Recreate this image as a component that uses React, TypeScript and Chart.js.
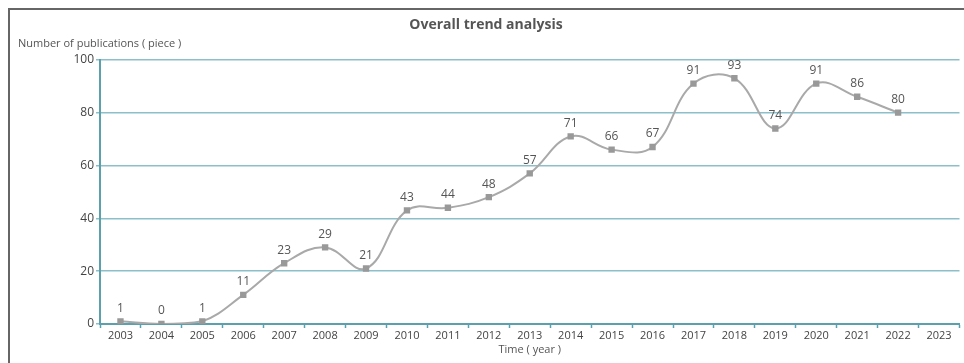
import React, { useEffect, useRef } from "react";
import { Chart, registerables } from "chart.js";

Chart.register(...registerables);

const years = ["2003","2004","2005","2006","2007","2008","2009","2010","2011","2012","2013","2014","2015","2016","2017","2018","2019","2020","2021","2022","2023"];
const publications: (number | null)[] = [1,0,1,11,23,29,21,43,44,48,57,71,66,67,91,93,74,91,86,80,null];
const yTicks = [0, 20, 40, 60, 80, 100];
const chartTitle = "Overall trend analysis";
const yTitle = "Number of publications ( piece )";
const xTitle = "Time ( year )";

const FONT = "'Open Sans', 'Noto Sans', sans-serif";
const GRID = "#8cbfc9";
const AXIS = "#5aa0ad";

const labelPlugin = {
  id: "labels",
  afterDatasetsDraw(chart: any) {
    const ctx = chart.ctx;
    const meta = chart.getDatasetMeta(0);
    ctx.save();
    ctx.font = `12px ${FONT}`;
    ctx.fillStyle = "#555";
    ctx.textAlign = "center";
    ctx.textBaseline = "bottom";
    meta.data.forEach((pt: any, i: number) => {
      const v = publications[i];
      if (v === null || v === undefined) return;
      ctx.fillText(String(v), pt.x, pt.y - 7);
    });
    ctx.font = `11px ${FONT}`;
    ctx.fillStyle = "#555";
    ctx.textAlign = "left";
    ctx.textBaseline = "middle";
    ctx.fillText(yTitle, 8, chart.chartArea.top - 16);
    ctx.restore();
  },
};

export default function App() {
  const ref = useRef<HTMLCanvasElement | null>(null);
  useEffect(() => {
    document.documentElement.style.overflow = "hidden";
    document.body.style.overflow = "hidden";
    if (!ref.current) return;
    const chart = new Chart(ref.current, {
      type: "line",
      data: {
        labels: years,
        datasets: [
          {
            data: publications,
            borderColor: "#a9a9a9",
            borderWidth: 2,
            tension: 0.4,
            pointStyle: "rect",
            pointRadius: 4.5,
            pointBackgroundColor: "#999",
            pointBorderColor: "#999",
            pointBorderWidth: 0,
            spanGaps: false,
          },
        ],
      },
      options: {
        animation: false,
        responsive: false,
        maintainAspectRatio: false,
        layout: { padding: { left: 0, right: 2, top: 0, bottom: 0 } },
        plugins: {
          legend: { display: false },
          tooltip: { enabled: false },
          title: {
            display: true,
            text: chartTitle,
            color: "#555",
            font: { family: FONT, size: 14, weight: "bold" },
            padding: { top: 7, bottom: 26 },
          },
        },
        scales: {
          x: {
            offset: true,
            grid: {
              offset: true,
              drawOnChartArea: false,
              drawTicks: true,
              tickLength: 4,
              color: AXIS,
              tickWidth: 1.5,
            },
            border: { color: AXIS, width: 2 },
            ticks: {
              color: "#444",
              font: { family: FONT, size: 11 },
              padding: 1,
              maxRotation: 0,
              autoSkip: false,
            },
            title: {
              display: true,
              text: xTitle,
              color: "#555",
              font: { family: FONT, size: 11 },
              padding: { top: 0, bottom: 7 },
            },
            afterFit: (s: any) => { s.height = 39; },
          },
          y: {
            min: 0,
            max: 100,
            afterBuildTicks: (s: any) => { s.ticks = yTicks.map((v) => ({ value: v })); },
            grid: {
              color: GRID,
              lineWidth: 1.5,
              drawTicks: true,
              tickLength: 4,
            },
            border: { color: AXIS, width: 2 },
            ticks: {
              color: "#444",
              font: { family: FONT, size: 12 },
              padding: 2,
            },
            afterFit: (s: any) => { s.width = 90; },
          },
        },
      },
      plugins: [labelPlugin],
    });
    return () => chart.destroy();
  }, []);
  return (
    <div
      style={{
        position: "fixed",
        left: 8,
        top: 8,
        width: 954,
        height: 353,
        borderTop: "2px solid #666",
        borderLeft: "2px solid #666",
        background: "#fff",
        overflow: "hidden",
      }}
    >
      <canvas ref={ref} width={954} height={353} style={{ display: "block" }} />
    </div>
  );
}
